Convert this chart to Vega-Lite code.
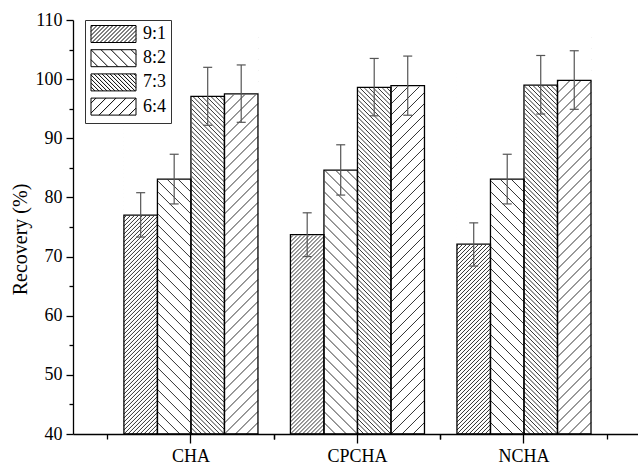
{
 "$schema": "https://vega.github.io/schema/vega-lite/v6.json",
 "width": 565,
 "height": 414,
 "autosize": {"type": "none"},
 "padding": {"left": 73, "top": 20, "right": 0, "bottom": 31},
 "background": "white",
 "config": {"view": {"stroke": null}, "font": "Liberation Serif"},
 "data": {"values": [
  {"g": "CHA", "s": "9:1", "v": 77.0, "lo": 73.3, "hi": 80.8},
  {"g": "CHA", "s": "8:2", "v": 83.1, "lo": 78.9, "hi": 87.3},
  {"g": "CHA", "s": "7:3", "v": 97.1, "lo": 92.2, "hi": 102.0},
  {"g": "CHA", "s": "6:4", "v": 97.5, "lo": 92.7, "hi": 102.4},
  {"g": "CPCHA", "s": "9:1", "v": 73.7, "lo": 70.0, "hi": 77.4},
  {"g": "CPCHA", "s": "8:2", "v": 84.6, "lo": 80.4, "hi": 88.9},
  {"g": "CPCHA", "s": "7:3", "v": 98.6, "lo": 93.8, "hi": 103.5},
  {"g": "CPCHA", "s": "6:4", "v": 98.9, "lo": 93.9, "hi": 103.9},
  {"g": "NCHA", "s": "9:1", "v": 72.1, "lo": 68.4, "hi": 75.7},
  {"g": "NCHA", "s": "8:2", "v": 83.1, "lo": 78.9, "hi": 87.3},
  {"g": "NCHA", "s": "7:3", "v": 99.0, "lo": 94.1, "hi": 104.0},
  {"g": "NCHA", "s": "6:4", "v": 99.8, "lo": 94.9, "hi": 104.8}
 ]},
 "layer": [
  {
   "mark": {"type": "point", "size": 4, "filled": false, "stroke": "#333", "strokeWidth": 1, "opacity": 1},
   "encoding": {
    "x": {"field": "g", "type": "nominal", "sort": ["CHA", "CPCHA", "NCHA"], "scale": {"paddingInner": 0.195, "paddingOuter": 0.294, "align": 0.52}, "axis": null},
    "xOffset": {"field": "s", "type": "nominal", "sort": ["9:1", "8:2", "7:3", "6:4"], "scale": {"paddingInner": 0, "paddingOuter": 0}},
    "y": {"datum": 40, "type": "quantitative", "scale": {"domain": [40, 110], "nice": false, "zero": false}, "axis": null},
    "shape": {"field": "s", "type": "nominal", "sort": ["9:1", "8:2", "7:3", "6:4"], "legend": null, "scale": {"domain": ["9:1", "8:2", "7:3", "6:4"], "range": [
     "M-12.75,0L16.75,-29.5M-8.75,0L16.75,-25.5M-4.75,0L16.75,-21.5M-0.75,0L16.75,-17.5M3.25,0L16.75,-13.5M7.25,0L16.75,-9.5M11.25,0L16.75,-5.5M15.25,0L16.75,-1.5M-16.75,0l33.5,-33.5m-33.5,29.5l33.5,-33.5m-33.5,29.5l33.5,-33.5m-33.5,29.5l33.5,-33.5m-33.5,29.5l33.5,-33.5m-33.5,29.5l33.5,-33.5m-33.5,29.5l33.5,-33.5m-33.5,29.5l33.5,-33.5m-33.5,29.5l33.5,-33.5m-33.5,29.5l33.5,-33.5m-33.5,29.5l33.5,-33.5m-33.5,29.5l33.5,-33.5m-33.5,29.5l33.5,-33.5m-33.5,29.5l33.5,-33.5m-33.5,29.5l33.5,-33.5m-33.5,29.5l33.5,-33.5m-33.5,29.5l33.5,-33.5m-33.5,29.5l33.5,-33.5m-33.5,29.5l33.5,-33.5m-33.5,29.5l33.5,-33.5m-33.5,29.5l33.5,-33.5m-33.5,29.5l33.5,-33.5m-33.5,29.5l33.5,-33.5m-33.5,29.5l33.5,-33.5m-33.5,29.5l33.5,-33.5m-33.5,29.5l33.5,-33.5m-33.5,29.5l33.5,-33.5m-33.5,29.5l33.5,-33.5m-33.5,29.5l33.5,-33.5m-33.5,29.5l33.5,-33.5m-33.5,29.5l33.5,-33.5m-33.5,29.5l33.5,-33.5m-33.5,29.5l33.5,-33.5m-33.5,29.5l33.5,-33.5m-33.5,29.5l33.5,-33.5m-33.5,29.5l33.5,-33.5m-33.5,29.5l33.5,-33.5m-33.5,29.5l33.5,-33.5m-33.5,29.5l33.5,-33.5m-33.5,29.5l33.5,-33.5m-33.5,29.5l33.5,-33.5m-33.5,29.5l33.5,-33.5m-33.5,29.5l33.5,-33.5m-33.5,29.5l33.5,-33.5m-33.5,29.5l33.5,-33.5m-33.5,29.5l33.5,-33.5m-33.5,29.5l33.5,-33.5m-33.5,29.5l33.5,-33.5m-33.5,29.5l33.5,-33.5m-33.5,29.5l33.5,-33.5m-33.5,29.5l33.5,-33.5m-33.5,29.5l33.5,-33.5m-33.5,29.5l33.5,-33.5m-33.5,29.5l33.5,-33.5m-33.5,29.5l33.5,-33.5m-33.5,29.5l33.5,-33.5m-33.5,29.5l33.5,-33.5m-33.5,29.5l33.5,-33.5m-33.5,29.5l33.5,-33.5m-33.5,29.5l33.5,-33.5m-33.5,29.5l33.5,-33.5m-33.5,29.5l33.5,-33.5m-33.5,29.5l33.5,-33.5m-33.5,29.5l33.5,-33.5m-33.5,29.5l33.5,-33.5m-33.5,29.5l33.5,-33.5m-33.5,29.5l33.5,-33.5m-33.5,29.5l33.5,-33.5m-33.5,29.5l33.5,-33.5m-33.5,29.5l33.5,-33.5m-33.5,29.5l33.5,-33.5m-33.5,29.5l33.5,-33.5m-33.5,29.5l33.5,-33.5m-33.5,29.5l33.5,-33.5m-33.5,29.5l33.5,-33.5m-33.5,29.5l33.5,-33.5m-33.5,29.5l33.5,-33.5m-33.5,29.5l33.5,-33.5m-33.5,29.5l33.5,-33.5m-33.5,29.5l33.5,-33.5m-33.5,29.5l33.5,-33.5m-33.5,29.5l33.5,-33.5m-33.5,29.5l33.5,-33.5m-33.5,29.5l33.5,-33.5m-33.5,29.5l33.5,-33.5m-33.5,29.5l33.5,-33.5m-33.5,29.5l33.5,-33.5m-33.5,29.5l33.5,-33.5m-33.5,29.5l33.5,-33.5m-33.5,29.5l33.5,-33.5m-33.5,29.5l33.5,-33.5",
     "M5.75,0L-16.75,-22.5M-5.25,0L-16.75,-11.5M-16.25,0L-16.75,-0.5M16.75,0l-33.5,-33.5m33.5,22.5l-33.5,-33.5m33.5,22.5l-33.5,-33.5m33.5,22.5l-33.5,-33.5m33.5,22.5l-33.5,-33.5m33.5,22.5l-33.5,-33.5m33.5,22.5l-33.5,-33.5m33.5,22.5l-33.5,-33.5m33.5,22.5l-33.5,-33.5m33.5,22.5l-33.5,-33.5m33.5,22.5l-33.5,-33.5m33.5,22.5l-33.5,-33.5m33.5,22.5l-33.5,-33.5m33.5,22.5l-33.5,-33.5m33.5,22.5l-33.5,-33.5m33.5,22.5l-33.5,-33.5m33.5,22.5l-33.5,-33.5m33.5,22.5l-33.5,-33.5m33.5,22.5l-33.5,-33.5m33.5,22.5l-33.5,-33.5m33.5,22.5l-33.5,-33.5m33.5,22.5l-33.5,-33.5m33.5,22.5l-33.5,-33.5m33.5,22.5l-33.5,-33.5m33.5,22.5l-33.5,-33.5m33.5,22.5l-33.5,-33.5m33.5,22.5l-33.5,-33.5m33.5,22.5l-33.5,-33.5m33.5,22.5l-33.5,-33.5m33.5,22.5l-33.5,-33.5m33.5,22.5l-33.5,-33.5m33.5,22.5l-33.5,-33.5m33.5,22.5l-33.5,-33.5m33.5,22.5l-33.5,-33.5",
     "M12.25,0L-16.75,-29M7.75,0L-16.75,-24.5M3.25,0L-16.75,-20M-1.25,0L-16.75,-15.5M-5.75,0L-16.75,-11M-10.25,0L-16.75,-6.5M-14.75,0L-16.75,-2M16.75,0l-33.5,-33.5m33.5,29l-33.5,-33.5m33.5,29l-33.5,-33.5m33.5,29l-33.5,-33.5m33.5,29l-33.5,-33.5m33.5,29l-33.5,-33.5m33.5,29l-33.5,-33.5m33.5,29l-33.5,-33.5m33.5,29l-33.5,-33.5m33.5,29l-33.5,-33.5m33.5,29l-33.5,-33.5m33.5,29l-33.5,-33.5m33.5,29l-33.5,-33.5m33.5,29l-33.5,-33.5m33.5,29l-33.5,-33.5m33.5,29l-33.5,-33.5m33.5,29l-33.5,-33.5m33.5,29l-33.5,-33.5m33.5,29l-33.5,-33.5m33.5,29l-33.5,-33.5m33.5,29l-33.5,-33.5m33.5,29l-33.5,-33.5m33.5,29l-33.5,-33.5m33.5,29l-33.5,-33.5m33.5,29l-33.5,-33.5m33.5,29l-33.5,-33.5m33.5,29l-33.5,-33.5m33.5,29l-33.5,-33.5m33.5,29l-33.5,-33.5m33.5,29l-33.5,-33.5m33.5,29l-33.5,-33.5m33.5,29l-33.5,-33.5m33.5,29l-33.5,-33.5m33.5,29l-33.5,-33.5m33.5,29l-33.5,-33.5m33.5,29l-33.5,-33.5m33.5,29l-33.5,-33.5m33.5,29l-33.5,-33.5m33.5,29l-33.5,-33.5m33.5,29l-33.5,-33.5m33.5,29l-33.5,-33.5m33.5,29l-33.5,-33.5m33.5,29l-33.5,-33.5m33.5,29l-33.5,-33.5m33.5,29l-33.5,-33.5m33.5,29l-33.5,-33.5m33.5,29l-33.5,-33.5m33.5,29l-33.5,-33.5m33.5,29l-33.5,-33.5m33.5,29l-33.5,-33.5m33.5,29l-33.5,-33.5m33.5,29l-33.5,-33.5m33.5,29l-33.5,-33.5m33.5,29l-33.5,-33.5m33.5,29l-33.5,-33.5m33.5,29l-33.5,-33.5m33.5,29l-33.5,-33.5m33.5,29l-33.5,-33.5m33.5,29l-33.5,-33.5m33.5,29l-33.5,-33.5m33.5,29l-33.5,-33.5m33.5,29l-33.5,-33.5m33.5,29l-33.5,-33.5m33.5,29l-33.5,-33.5m33.5,29l-33.5,-33.5m33.5,29l-33.5,-33.5m33.5,29l-33.5,-33.5m33.5,29l-33.5,-33.5m33.5,29l-33.5,-33.5m33.5,29l-33.5,-33.5m33.5,29l-33.5,-33.5m33.5,29l-33.5,-33.5m33.5,29l-33.5,-33.5m33.5,29l-33.5,-33.5m33.5,29l-33.5,-33.5m33.5,29l-33.5,-33.5m33.5,29l-33.5,-33.5m33.5,29l-33.5,-33.5m33.5,29l-33.5,-33.5",
     "M-5.75,0L16.75,-22.5M5.25,0L16.75,-11.5M16.25,0L16.75,-0.5M-16.75,0l33.5,-33.5m-33.5,22.5l33.5,-33.5m-33.5,22.5l33.5,-33.5m-33.5,22.5l33.5,-33.5m-33.5,22.5l33.5,-33.5m-33.5,22.5l33.5,-33.5m-33.5,22.5l33.5,-33.5m-33.5,22.5l33.5,-33.5m-33.5,22.5l33.5,-33.5m-33.5,22.5l33.5,-33.5m-33.5,22.5l33.5,-33.5m-33.5,22.5l33.5,-33.5m-33.5,22.5l33.5,-33.5m-33.5,22.5l33.5,-33.5m-33.5,22.5l33.5,-33.5m-33.5,22.5l33.5,-33.5m-33.5,22.5l33.5,-33.5m-33.5,22.5l33.5,-33.5m-33.5,22.5l33.5,-33.5m-33.5,22.5l33.5,-33.5m-33.5,22.5l33.5,-33.5m-33.5,22.5l33.5,-33.5m-33.5,22.5l33.5,-33.5m-33.5,22.5l33.5,-33.5m-33.5,22.5l33.5,-33.5m-33.5,22.5l33.5,-33.5m-33.5,22.5l33.5,-33.5m-33.5,22.5l33.5,-33.5m-33.5,22.5l33.5,-33.5m-33.5,22.5l33.5,-33.5m-33.5,22.5l33.5,-33.5m-33.5,22.5l33.5,-33.5m-33.5,22.5l33.5,-33.5m-33.5,22.5l33.5,-33.5"
    ]}}
   }
  },
  {
   "mark": {"type": "bar", "fill": "white", "stroke": "white", "strokeWidth": 1.5, "opacity": 1},
   "encoding": {
    "x": {"field": "g", "type": "nominal", "sort": ["CHA", "CPCHA", "NCHA"], "axis": {"orient": "bottom", "title": null, "labels": false, "domain": false, "grid": false, "tickSize": 5, "tickColor": "black", "tickWidth": 1.3, "bandPosition": -0.121}},
    "xOffset": {"field": "s", "type": "nominal", "sort": ["9:1", "8:2", "7:3", "6:4"]},
    "y": {"field": "v", "type": "quantitative", "axis": null},
    "y2": {"datum": 117}
   }
  },
  {
   "mark": {"type": "bar", "fill": "transparent", "stroke": "black", "strokeWidth": 1.3},
   "encoding": {
    "x": {"field": "g", "type": "nominal", "sort": ["CHA", "CPCHA", "NCHA"], "axis": {"orient": "bottom", "title": null, "labelAngle": 0, "labelFont": "Liberation Serif", "labelFontSize": 18, "labelColor": "black", "labelPadding": 4, "tickSize": 9, "tickColor": "black", "tickWidth": 1.3, "domainColor": "black", "domainWidth": 1.3, "grid": false}},
    "xOffset": {"field": "s", "type": "nominal", "sort": ["9:1", "8:2", "7:3", "6:4"]},
    "y": {"field": "v", "type": "quantitative", "scale": {"domain": [40, 110], "nice": false, "zero": false}, "axis": {"orient": "left", "title": "Recovery (%)", "titleFont": "Liberation Serif", "titleFontSize": 20, "titleFontWeight": "normal", "titleColor": "black", "titlePadding": 5, "titleY": 219, "values": [40, 45, 50, 55, 60, 65, 70, 75, 80, 85, 90, 95, 100, 105, 110], "labelExpr": "datum.value % 10 === 0 ? datum.label : ''", "labelFont": "Liberation Serif", "labelFontSize": 18, "labelColor": "black", "labelPadding": 4, "tickSize": {"condition": {"test": "datum.value % 10 === 0", "value": 7}, "value": 4}, "tickColor": "black", "tickWidth": 1.3, "domainColor": "black", "domainWidth": 1.3, "grid": false}},
    "y2": {"datum": 40}
   }
  },
  {
   "mark": {"type": "rule", "color": "#555", "strokeWidth": 1.2},
   "encoding": {
    "x": {"field": "g", "type": "nominal", "sort": ["CHA", "CPCHA", "NCHA"], "axis": {"orient": "bottom", "title": null, "labels": false, "domain": false, "grid": false, "tickSize": 5, "tickColor": "black", "tickWidth": 1.3, "bandPosition": 1.121}},
    "xOffset": {"field": "s", "type": "nominal", "sort": ["9:1", "8:2", "7:3", "6:4"]},
    "y": {"field": "lo", "type": "quantitative", "axis": null},
    "y2": {"field": "hi"}
   }
  },
  {
   "mark": {"type": "tick", "color": "#555", "size": 9, "thickness": 1.2, "opacity": 1},
   "encoding": {
    "x": {"field": "g", "type": "nominal", "sort": ["CHA", "CPCHA", "NCHA"], "axis": null},
    "xOffset": {"field": "s", "type": "nominal", "sort": ["9:1", "8:2", "7:3", "6:4"]},
    "y": {"field": "hi", "type": "quantitative", "axis": null}
   }
  },
  {
   "mark": {"type": "tick", "color": "#555", "size": 9, "thickness": 1.2, "opacity": 1},
   "encoding": {
    "x": {"field": "g", "type": "nominal", "sort": ["CHA", "CPCHA", "NCHA"], "axis": null},
    "xOffset": {"field": "s", "type": "nominal", "sort": ["9:1", "8:2", "7:3", "6:4"]},
    "y": {"field": "lo", "type": "quantitative", "axis": null}
   }
  },
  {
   "mark": {"type": "point", "size": 4, "filled": false, "stroke": "black", "strokeWidth": 1, "opacity": 1},
   "encoding": {
    "x": {"field": "g", "type": "nominal", "sort": ["CHA", "CPCHA", "NCHA"], "axis": null},
    "xOffset": {"field": "s", "type": "nominal", "sort": ["9:1", "8:2", "7:3", "6:4"]},
    "y": {"datum": 250, "type": "quantitative", "axis": null},
    "shape": {"field": "s", "type": "nominal", "sort": ["9:1", "8:2", "7:3", "6:4"], "scale": {"domain": ["9:1", "8:2", "7:3", "6:4"], "range": [
     "M-8,-8.5H37V8.5H-8ZM-8,-6.5L-6,-8.5M-8,-2.5L-2,-8.5M-8,1.5L2,-8.5M-8,5.5L6,-8.5M-7,8.5L10,-8.5M-3,8.5L14,-8.5M1,8.5L18,-8.5M5,8.5L22,-8.5M9,8.5L26,-8.5M13,8.5L30,-8.5M17,8.5L34,-8.5M21,8.5L37,-7.5M25,8.5L37,-3.5M29,8.5L37,0.5M33,8.5L37,4.5",
     "M-8,-8.5H37V8.5H-8ZM37,-3.5L32,-8.5M37,6.5L22,-8.5M29,8.5L12,-8.5M19,8.5L2,-8.5M9,8.5L-8,-8.5M-1,8.5L-8,1.5",
     "M-8,-8.5H37V8.5H-8ZM37,-6.5L35,-8.5M37,-2.5L31,-8.5M37,1.5L27,-8.5M37,5.5L23,-8.5M36,8.5L19,-8.5M32,8.5L15,-8.5M28,8.5L11,-8.5M24,8.5L7,-8.5M20,8.5L3,-8.5M16,8.5L-1,-8.5M12,8.5L-5,-8.5M8,8.5L-8,-7.5M4,8.5L-8,-3.5M0,8.5L-8,0.5M-4,8.5L-8,4.5",
     "M-8,-8.5H37V8.5H-8ZM-8,-3.5L-3,-8.5M-8,6.5L7,-8.5M0,8.5L17,-8.5M10,8.5L27,-8.5M20,8.5L37,-8.5M30,8.5L37,1.5"
    ]}, "legend": {"title": null, "orient": "none", "legendX": 12, "legendY": 0, "symbolSize": 4, "symbolStrokeColor": "black", "symbolStrokeWidth": 1, "symbolOpacity": 1, "labelOffset": 58, "labelAlign": "right", "labelFont": "Liberation Serif", "labelFontSize": 18, "labelColor": "black", "padding": 5, "strokeColor": "#333", "fillColor": "white", "rowPadding": 2.2, "zindex": 1}}
   }
  }
 ],
 "resolve": {"scale": {"shape": "independent"}, "axis": {"x": "independent", "y": "independent"}}
}
